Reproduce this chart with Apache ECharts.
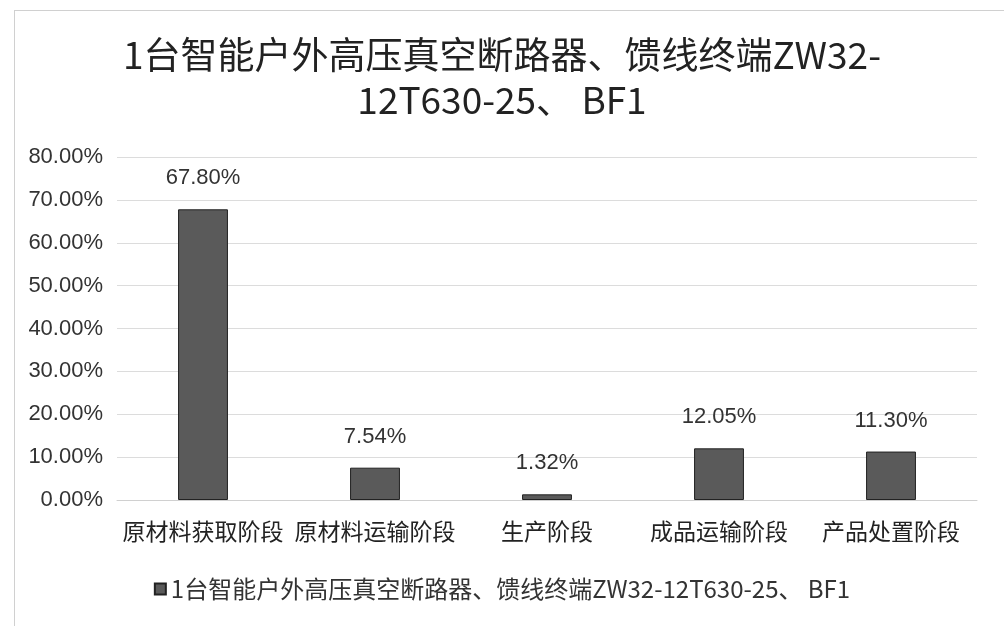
<!DOCTYPE html>
<html>
<head>
<meta charset="utf-8">
<script src="https://cdn.jsdelivr.net/npm/echarts@6/dist/echarts.min.js"></script>
<style>
  html, body { margin: 0; padding: 0; background: #fff; }
  #box { position: absolute; left: 14px; top: 10px; width: 990px; height: 616px; border-left: 1px solid #d0d0d0; border-top: 1px solid #d0d0d0; box-sizing: border-box; }
  #chart { position: absolute; left: 0; top: 0; width: 1004px; height: 626px; }
</style>
</head>
<body>
<div id="box"></div>
<div id="chart"></div>
<script>
// 标题和系列名
var titleText = '1台智能户外高压真空断路器、馈线终端ZW32-\n12T630-25、 BF1';
var seriesName = '1台智能户外高压真空断路器、馈线终端ZW32-12T630-25、 BF1';
// 各阶段
var stages = ['原材料获取阶段', '原材料运输阶段', '生产阶段', '成品运输阶段', '产品处置阶段'];
// 占比 (%)
var shares = [67.80, 7.54, 1.32, 12.05, 11.30];

var myChart = echarts.init(document.getElementById('chart'));
var font = '"Noto Sans CJK SC", "Liberation Sans", sans-serif';
var option = {
    animation: false,
    title: {
        text: titleText,
        left: 'center',
        top: 27,
        textStyle: {
            fontFamily: font,
            fontSize: 37,
            fontWeight: 'normal',
            color: '#222',
            lineHeight: 45
        }
    },
    legend: {
        bottom: 20,
        left: 'center',
        itemWidth: 11,
        itemHeight: 11,
        icon: 'rect',
        textStyle: { fontFamily: font, fontSize: 24, color: '#333' },
        data: [seriesName]
    },
    grid: {
        left: 117,
        right: 27,
        top: 157,
        bottom: 126
    },
    xAxis: {
        type: 'category',
        data: stages,
        axisTick: { show: false },
        axisLine: { lineStyle: { color: '#d0d0d0' } },
        axisLabel: { fontFamily: font, fontSize: 23, color: '#222', margin: 20, interval: 0 }
    },
    yAxis: {
        type: 'value',
        min: 0,
        max: 80,
        interval: 10,
        axisLine: { show: false },
        axisTick: { show: false },
        splitLine: { lineStyle: { color: '#dcdcdc' } },
        axisLabel: {
            fontFamily: '"Liberation Sans", sans-serif',
            fontSize: 22,
            color: '#333',
            margin: 14,
            formatter: function (v) { return v.toFixed(2) + '%'; }
        }
    },
    series: [
        {
            name: seriesName,
            type: 'bar',
            barWidth: '29%',
            data: shares,
            itemStyle: { color: '#5a5a5a', borderColor: '#222', borderWidth: 1 },
            label: {
                show: true,
                position: 'top',
                distance: 20,
                fontFamily: '"Liberation Sans", sans-serif',
                fontSize: 22,
                color: '#333',
                formatter: function (p) { return p.value.toFixed(2) + '%'; }
            }
        }
    ]
};
myChart.setOption(option);
</script>
</body>
</html>
